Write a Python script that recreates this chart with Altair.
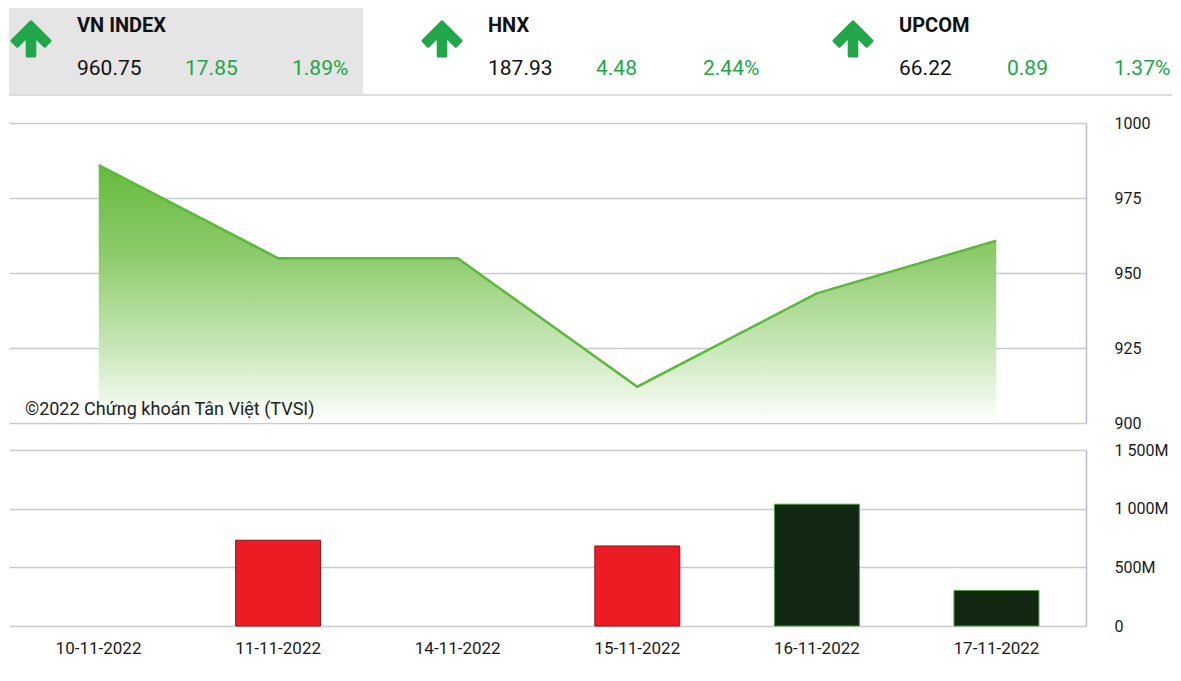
import altair as alt
import pandas as pd

# ---- data ----
index_names = ["VN INDEX", "HNX", "UPCOM"]
index_prices = [960.75, 187.93, 66.22]
index_changes = [17.85, 4.48, 0.89]
index_pcts = [1.89, 2.44, 1.37]
index_selected = [True, False, False]

dates = ["10-11-2022", "11-11-2022", "14-11-2022", "15-11-2022", "16-11-2022", "17-11-2022"]
vnindex_close = [986.0, 954.9, 954.9, 912.1, 943.2, 960.75]
volume_millions = [None, 731, None, 682, 1038, 303]
direction = [None, "down", None, "down", "up", "up"]

copyright_text = "©2022 Chứng khoán Tân Việt (TVSI)"

GREEN = "#22a64a"
FONT = "Roboto"

hdf = pd.DataFrame({
    "name": index_names,
    "price": index_prices,
    "change": index_changes,
    "pct": index_pcts,
    "selected": index_selected,
})
df = pd.DataFrame({"date": dates, "close": vnindex_close,
                   "vol": volume_millions, "dir": direction})

# ---- header ----
hscale = alt.Scale(domain=index_names, range=[0, 1176], paddingInner=0.1387, paddingOuter=0)
hx = alt.X("name:N", sort=index_names, bandPosition=0, scale=hscale, axis=None)
hbase = alt.Chart(hdf)

panel_bg = hbase.transform_filter("datum.selected").mark_rect(color="#e5e5e5").encode(
    x=alt.X("name:N", sort=index_names, scale=hscale, axis=None),
    y=alt.value(0), y2=alt.value(86))

arrow_path = ("M0,-0.9 L1,0.1 L0.72,0.38 L0.2,-0.14 L0.2,0.9 L-0.2,0.9 "
              "L-0.2,-0.14 L-0.72,0.38 L-1,0.1 Z")
arrows = hbase.mark_point(shape=arrow_path, size=1444, filled=True, color=GREEN,
                          stroke=GREEN, strokeWidth=3, strokeJoin="round",
                          opacity=1, xOffset=22).encode(x=hx, y=alt.value(31))

titles = hbase.mark_text(align="left", baseline="middle", dx=68, font=FONT,
                         fontSize=20, fontWeight="bold", color="#111111").encode(
    x=hx, y=alt.value(18), text="name:N")
prices = hbase.mark_text(align="left", baseline="middle", dx=68, font=FONT,
                         fontSize=21, color="#111111").encode(
    x=hx, y=alt.value(61), text=alt.Text("price:Q", format=".2f"))
changes = hbase.mark_text(align="left", baseline="middle", dx=176, font=FONT,
                          fontSize=21, color=GREEN).encode(
    x=hx, y=alt.value(61), text=alt.Text("change:Q", format=".2f"))
pcts = hbase.transform_calculate(pct_txt="format(datum.pct, '.2f') + '%'").mark_text(
    align="left", baseline="middle", dx=283, font=FONT, fontSize=21, color=GREEN).encode(
    x=hx, y=alt.value(61), text="pct_txt:N")
hrule = alt.Chart(pd.DataFrame({"k": [0]})).mark_rule(color="#d2d2d2", strokeWidth=1.5).encode(
    x=alt.value(0), x2=alt.value(1163), y=alt.value(87))

header = alt.layer(panel_bg, arrows, titles, prices, changes, pcts, hrule).properties(
    width=1163, height=88)

# ---- shared x scale ----
xscale = alt.Scale(domain=dates, paddingInner=0.527, paddingOuter=0.262)

GRID = "#c8cacf"
DOMAIN = "#b6bdca"

# ---- line / area chart ----
yline = alt.Scale(domain=[900, 1000], zero=False, nice=False)
line_axis = alt.Axis(orient="right", values=[900, 925, 950, 975, 1000], title=None,
                     format="d", ticks=False, domain=True, domainColor=DOMAIN,
                     domainWidth=1.5, grid=True, gridColor=GRID, gridWidth=1.5,
                     labelPadding=28, labelFontSize=16, labelColor="#1a1a1a",
                     labelFont=FONT)

gradient = alt.Gradient(gradient="linear", x1=0, x2=0, y1=0, y2=1, stops=[
    alt.GradientStop(color="#66bb3c", offset=0),
    alt.GradientStop(color="#8ecb6c", offset=0.35),
    alt.GradientStop(color="#cbe8bb", offset=0.72),
    alt.GradientStop(color="#ffffff", offset=1),
])

lbase = alt.Chart(df)
area = lbase.mark_area(color=gradient).encode(
    x=alt.X("date:N", sort=dates, scale=xscale, axis=None),
    y=alt.Y("close:Q", scale=yline, axis=line_axis),
    y2=alt.datum(900))
line = lbase.mark_line(color="#5cb83c", strokeWidth=2.5).encode(
    x=alt.X("date:N", sort=dates, scale=xscale, axis=None),
    y=alt.Y("close:Q", scale=yline))
ctext = alt.Chart(pd.DataFrame({"t": [copyright_text]})).mark_text(
    align="left", baseline="middle", font=FONT, fontSize=18, color="#222222").encode(
    x=alt.value(16), y=alt.value(287), text="t:N")

line_chart = alt.layer(area, line, ctext).properties(width=1077, height=300)

# ---- volume bars ----
bar_axis = alt.Axis(orient="right", values=[0, 500, 1000, 1500], title=None,
                    ticks=False, domain=True, domainColor=DOMAIN, domainWidth=1.5,
                    grid=True, gridColor=GRID, gridWidth=1.5, labelPadding=28,
                    labelFontSize=16, labelColor="#1a1a1a", labelFont=FONT,
                    labelExpr="datum.value == 0 ? '0' : replace(format(datum.value, ','), ',', ' ') + 'M'")
bars = alt.Chart(df).transform_filter("datum.vol != null").mark_bar(strokeWidth=1).encode(
    x=alt.X("date:N", sort=dates, scale=xscale,
            axis=alt.Axis(title=None, labelAngle=0, ticks=False, domain=False,
                          labelPadding=14, labelFontSize=17, labelColor="#1a1a1a",
                          labelFont=FONT, labelBaseline="top")),
    y=alt.Y("vol:Q", scale=alt.Scale(domain=[0, 1500], nice=False), axis=bar_axis),
    color=alt.Color("dir:N", scale=alt.Scale(domain=["down", "up"],
                                             range=["#ed1c24", "#132812"]), legend=None),
    stroke=alt.Stroke("dir:N", scale=alt.Scale(domain=["down", "up"],
                                               range=["#8a1515", "#4a9a3a"]), legend=None),
).properties(width=1077, height=176)

chart = alt.vconcat(header, line_chart, bars, spacing=27, bounds="flush").resolve_scale(
    x="independent", y="independent", color="independent", stroke="independent"
).properties(padding=0, background="white").configure(font=FONT).configure_view(
    stroke=None, strokeWidth=0)

chart.save("out.html", embed_options={"renderer": "svg", "actions": False})
